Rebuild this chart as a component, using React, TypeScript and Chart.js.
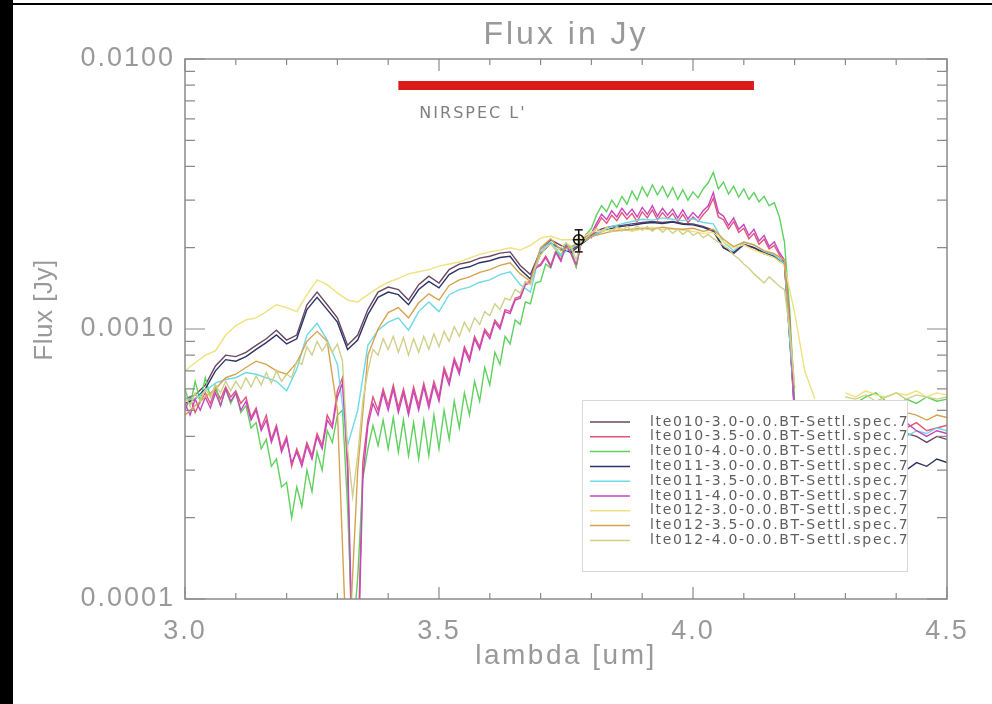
import React, { useEffect, useRef } from 'react';
import { Chart, registerables } from 'chart.js';
Chart.register(...registerables);

// wavelength grids (um)
const WL_COARSE = Array.from({ length: 61 }, (_, i) => Math.round((3 + i * 0.02) * 100) / 100);
const WL_FINE = Array.from({ length: 121 }, (_, i) => Math.round((3 + i * 0.01) * 100) / 100);
const WL_TAIL = Array.from({ length: 15 }, (_, i) => Math.round((4.22 + i * 0.02) * 100) / 100);

const X_TICKS = [3.0, 3.5, 4.0, 4.5];
const Y_TICKS = [0.0001, 0.001, 0.01];

// flux values in units of 1e-4 Jy
const LTE010_30 = [5.5, 5.7, 6.2, 7.3, 8.0, 7.9, 8.2, 8.7, 9.2, 9.9, 9.1, 9.5, 12.3, 13.7, 12.3, 11.0, 8.7, 9.5, 11.8, 13.7, 14.3, 14.0, 12.8, 14.6, 15.7, 14.8, 16.6, 17.4, 17.7, 18.3, 18.6, 19.1, 19.3, 17.2, 15.9, 19.6, 21.4, 20.4, 19.6, 20.8, 22.3, 23.5, 24.0, 24.2, 24.5, 24.8, 25.0, 24.8, 25.0, 24.6, 24.5, 24.0, 23.2, 20.0, 19.0, 20.5, 20.0, 19.0, 18.5, 17.5, 5.2];
const LTE010_30_TAIL = [null, null, null, null, 4.0, 3.9, 4.1, 3.8, 4.0, 3.9, 4.1, 4.0, 3.8, 4.0, 3.9];

const LTE010_35 = [
  5.0, 5.6, 4.9, 5.4, 5.8, 5.3, 6.0, 5.5, 6.1, 5.6,
  5.9, 5.3, 5.6, 4.7, 5.1, 4.3, 4.8, 3.9, 4.4, 3.6,
  4.0, 3.1, 3.6, 3.2, 3.8, 3.4, 4.1, 3.7, 4.8, 4.4,
  5.9, 6.6, 3.0, 0.5, 0.6, 3.2, 4.6, 5.6, 5.0, 6.0,
  5.2, 6.2, 5.1, 6.0, 5.0, 6.1, 5.2, 6.3, 5.3, 6.4,
  5.6, 7.2, 6.4, 7.8, 7.0, 8.6, 7.8, 9.4, 8.6, 10.0,
  9.4, 10.8, 10.2, 11.8, 11.6, 13.0, 13.2, 14.8, 15.0, 17.0,
  17.4, 18.6, 17.2, 19.5, 18.0, 20.6, 19.0, 17.0, 21.0, 22.5,
  21.8, 24.0, 25.8, 24.6, 26.4, 25.2, 27.0, 25.5, 26.8, 25.0,
  27.2, 25.8, 27.6, 25.4, 27.0, 25.6, 26.8, 25.0, 26.6, 24.8,
  26.0, 25.0, 26.5, 27.8, 30.5, 26.0, 25.4, 23.5, 25.0, 22.8,
  23.6, 21.6, 22.6, 20.6, 21.5, 19.8, 20.4, 18.8, 17.6, 10.0,
  4.6];
const LTE010_35_TAIL = [null, null, null, null, 4.4, 4.3, 4.5, 4.2, 4.4, 4.6, 4.3, 4.5, 4.2, 4.3, 4.4];

const LTE010_40 = [
  6.0, 5.2, 6.4, 5.4, 6.6, 5.6, 6.2, 5.2, 6.0, 5.3,
  5.8, 4.9, 5.2, 4.3, 4.5, 3.6, 3.9, 3.1, 3.3, 2.6,
  2.7, 2.0, 2.6, 2.2, 3.0, 2.5, 3.5, 3.0, 4.2, 3.8,
  4.8, 5.0, 2.2, 0.7, 1.2, 2.8, 3.6, 4.4, 3.7, 4.6,
  3.6, 4.7, 3.5, 4.6, 3.4, 4.5, 3.3, 4.6, 3.4, 4.8,
  3.6, 5.0, 3.9, 5.4, 4.3, 5.8, 4.8, 6.4, 5.4, 7.2,
  6.2, 8.2, 7.4, 9.4, 8.8, 10.8, 10.4, 12.6, 12.4, 14.8,
  15.0, 17.4, 16.8, 19.4, 18.6, 20.8, 19.8, 17.0, 21.0, 22.4,
  23.6, 26.4, 28.6, 27.2, 30.0, 28.2, 31.0, 29.0, 32.4, 30.0,
  33.6, 31.0, 34.2, 31.4, 33.8, 30.8, 33.4, 30.2, 32.8, 30.0,
  32.2, 30.6, 33.0, 34.8, 38.0, 33.0, 35.0, 31.6, 33.8, 30.8,
  33.0, 30.2, 32.0, 29.6, 31.0, 28.6, 29.4, 26.0, 21.0, 12.0,
  5.4];
const LTE010_40_TAIL = [null, null, null, null, 5.0, 5.3, 5.6, 5.8, 5.4, 5.2, 5.5, 5.3, 5.6, 5.4, 5.5];

const LTE011_30 = [5.3, 5.5, 6.0, 7.0, 7.7, 7.6, 7.9, 8.4, 8.9, 9.5, 8.8, 9.2, 11.8, 13.1, 11.8, 10.6, 8.4, 9.1, 11.3, 13.1, 13.7, 13.4, 12.3, 14.0, 15.0, 14.2, 15.9, 16.7, 17.0, 17.6, 17.9, 18.4, 18.6, 16.6, 15.3, 19.0, 20.8, 19.8, 19.2, 20.6, 22.0, 23.0, 23.6, 24.0, 24.2, 24.6, 24.8, 24.6, 24.9, 24.4, 24.3, 23.8, 23.0, 20.0, 19.2, 20.6, 20.0, 19.2, 18.6, 17.6, 5.0];
const LTE011_30_TAIL = [null, null, null, null, 3.3, 3.2, 3.4, 3.1, 3.2, 3.3, 3.0, 3.2, 3.1, 3.3, 3.2];

const LTE011_35 = [5.5, 5.5, 5.9, 6.3, 6.5, 6.6, 6.9, 6.8, 6.6, 6.4, 5.9, 7.1, 9.5, 10.5, 9.1, 7.4, 3.7, 5.0, 8.7, 9.9, 10.6, 11.0, 9.9, 11.6, 12.6, 11.6, 13.4, 14.0, 14.3, 14.9, 15.2, 15.9, 16.3, 14.6, 13.7, 19.6, 21.0, 18.8, 20.0, 20.8, 22.0, 23.0, 24.0, 24.5, 25.0, 25.5, 25.3, 25.8, 25.5, 25.2, 25.6, 24.8, 24.5, 21.0, 19.5, 21.0, 20.5, 19.4, 18.8, 17.5, 5.0];
const LTE011_35_TAIL = [null, null, null, null, 4.1, 4.2, 4.0, 4.3, 4.1, 4.2, 4.0, 4.2, 4.1, 4.3, 4.2];

const LTE011_40 = [
  5.3, 4.8, 5.5, 5.0, 5.6, 5.1, 5.8, 5.2, 6.0, 5.4,
  5.8, 5.0, 5.4, 4.6, 5.0, 4.2, 4.6, 3.8, 4.3, 3.5,
  3.9, 3.2, 3.5, 3.1, 3.7, 3.3, 4.0, 3.6, 4.6, 4.3,
  5.6, 6.3, 3.4, 0.6, 0.5, 2.8, 4.4, 5.3, 4.8, 5.8,
  5.0, 6.0, 4.9, 5.8, 4.8, 5.9, 5.0, 6.1, 5.1, 6.2,
  5.4, 7.0, 6.2, 7.6, 6.8, 8.4, 7.6, 9.2, 8.4, 9.8,
  9.2, 10.6, 10.0, 11.6, 11.4, 12.8, 13.0, 14.6, 14.8, 16.8,
  17.2, 18.4, 17.0, 19.2, 17.8, 20.4, 19.0, 17.4, 20.8, 22.0,
  22.6, 24.6, 26.6, 25.4, 27.4, 26.0, 28.0, 26.4, 27.8, 26.0,
  28.2, 26.6, 28.6, 26.2, 28.0, 26.4, 27.8, 25.8, 27.6, 25.6,
  27.0, 25.8, 27.4, 28.6, 32.0, 27.0, 26.2, 24.2, 25.8, 23.4,
  24.4, 22.2, 23.4, 21.2, 22.2, 20.2, 21.0, 19.2, 18.0, 11.0,
  4.8];
const LTE011_40_TAIL = [null, null, null, null, 4.2, 4.0, 4.3, 4.1, 4.4, 4.2, 4.5, 4.2, 4.0, 4.2, 4.1];

const LTE012_30 = [7.0, 7.5, 8.0, 8.3, 9.5, 10.3, 10.8, 11.0, 11.6, 12.3, 12.0, 11.6, 13.4, 15.2, 14.6, 13.6, 12.8, 12.6, 13.4, 14.2, 14.9, 15.4, 16.0, 16.3, 16.6, 17.1, 17.4, 17.7, 18.3, 18.9, 19.3, 19.6, 20.0, 19.6, 20.4, 21.7, 22.1, 21.4, 21.4, 21.7, 22.9, 23.0, 23.3, 23.5, 23.0, 23.5, 23.8, 23.3, 23.6, 23.2, 23.0, 22.6, 22.8, 21.0, 20.0, 20.5, 19.6, 19.0, 18.4, 17.2, 11.5];
const LTE012_30_TAIL = [7.0, 5.5, null, null, 5.8, 5.6, 5.9, 5.7, 5.6, 5.8, 5.7, 5.9, 5.6, 5.8, 5.7];

const LTE012_35 = [4.8, 5.2, 5.6, 6.0, 6.6, 6.8, 7.2, 7.6, 7.4, 7.0, 6.8, 7.5, 9.0, 9.8, 9.0, 5.0, 0.5, 3.0, 8.0, 10.0, 11.5, 12.0, 11.0, 12.5, 13.5, 12.8, 14.5, 15.2, 15.6, 16.2, 16.6, 17.2, 17.6, 16.0, 15.0, 20.0, 21.6, 19.5, 20.2, 21.0, 22.0, 22.5, 23.0, 23.2, 23.4, 23.6, 23.4, 23.8, 23.5, 23.4, 23.6, 23.0, 23.4, 21.5, 20.2, 21.0, 20.5, 19.5, 19.0, 18.0, 6.0];
const LTE012_35_TAIL = [null, null, null, null, 4.8, 4.7, 4.9, 4.6, 4.8, 4.7, 4.9, 4.8, 4.6, 4.8, 4.7];

const LTE012_40 = [
  5.6, 5.2, 5.8, 5.4, 6.0, 5.6, 6.2, 5.8, 6.4, 5.9,
  6.4, 6.0, 6.6, 6.1, 6.7, 6.2, 6.9, 6.3, 7.0, 6.4,
  6.8, 6.6, 7.6, 7.4, 8.6, 8.0, 9.0, 8.3, 8.9, 8.2,
  8.8, 7.6, 3.6, 2.4, 3.4, 5.4, 7.0, 8.4, 8.0, 9.2,
  8.4, 9.4, 8.2, 9.3, 8.0, 9.2, 8.2, 9.4, 8.4, 9.6,
  8.6, 9.8, 9.0, 10.2, 9.4, 10.6, 9.8, 11.0, 10.4, 11.6,
  11.2, 12.4, 11.8, 13.0, 12.8, 14.0, 13.6, 15.0, 14.6, 17.0,
  18.8, 20.0, 20.6, 19.6, 20.0, 20.8, 20.2, 18.0, 21.0, 21.8,
  22.6, 23.6, 22.8, 23.8, 22.9, 23.9, 23.0, 24.0, 23.1, 24.1,
  23.2, 24.0, 23.0, 23.8, 22.8, 23.6, 22.6, 23.4, 22.4, 23.2,
  22.2, 22.8, 21.8, 22.4, 21.6, 21.0, 20.4, 19.8, 18.8, 18.2,
  17.4, 16.8, 16.0, 15.4, 14.8, 15.6, 15.0, 14.4, 14.0, 10.0,
  6.2];
const LTE012_40_TAIL = [null, null, null, null, 5.6, 5.5, 5.7, 5.4, 5.6, 5.8, 5.5, 5.7, 5.6, 5.5, 5.6];

const SERIES_NAMES = [
  'lte010-3.0-0.0.BT-Settl.spec.7',
  'lte010-3.5-0.0.BT-Settl.spec.7',
  'lte010-4.0-0.0.BT-Settl.spec.7',
  'lte011-3.0-0.0.BT-Settl.spec.7',
  'lte011-3.5-0.0.BT-Settl.spec.7',
  'lte011-4.0-0.0.BT-Settl.spec.7',
  'lte012-3.0-0.0.BT-Settl.spec.7',
  'lte012-3.5-0.0.BT-Settl.spec.7',
  'lte012-4.0-0.0.BT-Settl.spec.7',
];
const SERIES_COLORS = ['#6a4760', '#e25577', '#5fd15f', '#2e3366', '#6fd9e8', '#c845c0', '#eee27e', '#d6a24e', '#cfd08a'];
const SERIES_MAIN = [LTE010_30, LTE010_35, LTE010_40, LTE011_30, LTE011_35, LTE011_40, LTE012_30, LTE012_35, LTE012_40];
const SERIES_GRID = [WL_COARSE, WL_FINE, WL_FINE, WL_COARSE, WL_COARSE, WL_FINE, WL_COARSE, WL_COARSE, WL_FINE];
const SERIES_TAIL = [LTE010_30_TAIL, LTE010_35_TAIL, LTE010_40_TAIL, LTE011_30_TAIL, LTE011_35_TAIL, LTE011_40_TAIL, LTE012_30_TAIL, LTE012_35_TAIL, LTE012_40_TAIL];

// NIRSPEC L' band and measured point
const NIRSPEC_RANGE = [3.42, 4.12];
const NIRSPEC_LEVEL = 0.00798;
const MEAS_WL = 3.775;
const MEAS_FLUX = 0.00214;
const MEAS_ERR = [0.00193, 0.00233];

const TEXT = '#999999';

function toPoints(wl: number[], vals: (number | null)[]) {
  const n = Math.min(wl.length, vals.length);
  const out: { x: number; y: number | null }[] = [];
  for (let i = 0; i < n; i++) out.push({ x: wl[i], y: vals[i] == null ? null : (vals[i] as number) * 1e-4 });
  return out;
}

const decor = {
  id: 'decor',
  beforeDraw(chart: any) {
    const ctx = chart.ctx;
    ctx.save();
    ctx.fillStyle = '#ffffff';
    ctx.fillRect(0, 0, chart.width, chart.height);
    ctx.fillStyle = '#000000';
    ctx.fillRect(0, 0, 13, chart.height);
    ctx.fillRect(13, 3, chart.width - 13, 2);
    ctx.restore();
    ctx.letterSpacing = '2px';
  },
  afterDatasetsDraw(chart: any) {
    const ctx = chart.ctx;
    const a = chart.chartArea;
    const xs = chart.scales.x;
    const ys = chart.scales.y;
    ctx.save();
    ctx.letterSpacing = '0px';

    // legend
    const series = chart.data.datasets.filter((d: any) => d.isSeries);
    const bx = 582, by = 400, bw = 325, bh = 171;
    ctx.fillStyle = '#ffffff';
    ctx.fillRect(bx, by, bw, bh);
    ctx.strokeStyle = '#d8d8d8';
    ctx.lineWidth = 1;
    ctx.strokeRect(bx + 0.5, by + 0.5, bw, bh);
    ctx.font = '14px "DejaVu Sans"';
    ctx.textBaseline = 'middle';
    ctx.textAlign = 'left';
    ctx.letterSpacing = '1.7px';
    series.forEach((d: any, i: number) => {
      const y = 422 + i * 14.8;
      ctx.strokeStyle = d.borderColor;
      ctx.lineWidth = 1.5;
      ctx.beginPath();
      ctx.moveTo(590, y);
      ctx.lineTo(630, y);
      ctx.stroke();
      ctx.fillStyle = '#5e5e5e';
      ctx.fillText(d.label, 650, y);
    });

    // frame
    ctx.strokeStyle = '#8a8a8a';
    ctx.lineWidth = 1.5;
    ctx.strokeRect(a.left, a.top, a.right - a.left, a.bottom - a.top);

    // x ticks (inside, top and bottom)
    ctx.lineWidth = 1.2;
    for (let k = 30; k <= 45; k++) {
      const x = xs.getPixelForValue(k / 10);
      const len = k % 5 === 0 ? 12 : 6;
      ctx.beginPath();
      ctx.moveTo(x, a.bottom);
      ctx.lineTo(x, a.bottom - len);
      ctx.moveTo(x, a.top);
      ctx.lineTo(x, a.top + len);
      ctx.stroke();
    }
    // y ticks (log, inside, left and right)
    [0.0001, 0.001].forEach((dec) => {
      for (let m = 1; m <= 9; m++) {
        const y = ys.getPixelForValue(m * dec);
        const len = m === 1 ? 20 : 10;
        ctx.beginPath();
        ctx.moveTo(a.left, y);
        ctx.lineTo(a.left + len, y);
        ctx.moveTo(a.right, y);
        ctx.lineTo(a.right - len, y);
        ctx.stroke();
      }
    });
    const yTop = ys.getPixelForValue(0.01);
    ctx.beginPath();
    ctx.moveTo(a.left, yTop);
    ctx.lineTo(a.left + 20, yTop);
    ctx.moveTo(a.right, yTop);
    ctx.lineTo(a.right - 20, yTop);
    ctx.stroke();

    // NIRSPEC label
    ctx.fillStyle = '#808080';
    ctx.font = '16px "DejaVu Sans"';
    ctx.letterSpacing = '2px';
    ctx.textAlign = 'left';
    ctx.textBaseline = 'middle';
    ctx.fillText("NIRSPEC L'", xs.getPixelForValue(NIRSPEC_RANGE[0]) + 21, 114);

    // title
    ctx.fillStyle = TEXT;
    ctx.font = '32px "Liberation Sans"';
    ctx.letterSpacing = '3px';
    ctx.textAlign = 'center';
    ctx.fillText('Flux in Jy', (a.left + a.right) / 2, 35);

    // x title
    ctx.font = '28px "Liberation Sans"';
    ctx.letterSpacing = '2.5px';
    ctx.fillText('lambda [um]', (a.left + a.right) / 2, 656);

    // y title
    ctx.font = '26px "Liberation Sans"';
    ctx.letterSpacing = '0.5px';
    ctx.translate(45, 310);
    ctx.rotate(-Math.PI / 2);
    ctx.fillText('Flux [Jy]', 0, 0);
    ctx.restore();
  },
  afterDraw(chart: any) {
    chart.ctx.letterSpacing = '0px';
  },
};

export default function App() {
  const ref = useRef<HTMLCanvasElement | null>(null);
  useEffect(() => {
    if (!ref.current) return;
    const seriesSets = SERIES_NAMES.map((name, i) => ({
      label: name,
      isSeries: true,
      data: [...toPoints(SERIES_GRID[i], SERIES_MAIN[i]), ...toPoints(WL_TAIL, SERIES_TAIL[i])],
      borderColor: SERIES_COLORS[i],
      borderWidth: 1.4,
      pointRadius: 0,
      tension: 0,
      spanGaps: false,
      order: 20 - i,
    }));
    const chart = new Chart(ref.current, {
      type: 'line',
      data: {
        datasets: [
          ...seriesSets,
          {
            label: 'NIRSPEC',
            data: [{ x: NIRSPEC_RANGE[0], y: NIRSPEC_LEVEL }, { x: NIRSPEC_RANGE[1], y: NIRSPEC_LEVEL }],
            borderColor: '#dc1a1a',
            borderWidth: 9,
            borderCapStyle: 'butt',
            pointRadius: 0,
            order: 3,
          },
          {
            label: 'err',
            data: [{ x: MEAS_WL, y: MEAS_ERR[0] }, { x: MEAS_WL, y: MEAS_ERR[1] }],
            borderColor: '#111111',
            borderWidth: 1.5,
            pointStyle: 'line',
            pointRadius: 4,
            pointBorderWidth: 1.5,
            pointBorderColor: '#111111',
            order: 2,
          },
          {
            label: 'meas',
            data: [{ x: MEAS_WL, y: MEAS_FLUX }],
            showLine: false,
            pointStyle: 'circle',
            pointRadius: 5,
            pointBorderWidth: 1.5,
            pointBorderColor: '#111111',
            pointBackgroundColor: 'rgba(0,0,0,0)',
            order: 1,
          },
          {
            label: 'meas2',
            data: [{ x: MEAS_WL, y: MEAS_FLUX }],
            showLine: false,
            pointStyle: 'cross',
            pointRadius: 6,
            pointBorderWidth: 1.5,
            pointBorderColor: '#111111',
            order: 0,
          },
        ] as any,
      },
      options: {
        animation: false,
        responsive: false,
        devicePixelRatio: 1,
        events: [],
        layout: { padding: { top: 59, right: 45, left: 0, bottom: 0 } },
        plugins: { legend: { display: false }, tooltip: { enabled: false }, title: { display: false } },
        scales: {
          x: {
            type: 'linear',
            min: 3.0,
            max: 4.5,
            afterBuildTicks: (s: any) => { s.ticks = X_TICKS.map((v) => ({ value: v })); },
            afterFit: (s: any) => { s.height = 105; },
            grid: { display: false, drawTicks: false, tickLength: 0 },
            border: { display: false },
            ticks: {
              font: { family: 'Liberation Sans', size: 27 },
              color: TEXT,
              padding: 16,
              maxRotation: 0,
              autoSkip: false,
              callback: (v: any) => Number(v).toFixed(1),
            },
          },
          y: {
            type: 'logarithmic',
            min: 0.0001,
            max: 0.01,
            afterBuildTicks: (s: any) => { s.ticks = Y_TICKS.map((v) => ({ value: v })); },
            afterFit: (s: any) => { s.width = 185; },
            grid: { display: false, drawTicks: false, tickLength: 0 },
            border: { display: false },
            ticks: {
              font: { family: 'Liberation Sans', size: 27 },
              color: TEXT,
              padding: 10,
              autoSkip: false,
              callback: (v: any) => Number(v).toFixed(4),
            },
          },
        },
      } as any,
      plugins: [decor],
    });
    return () => chart.destroy();
  }, []);
  return (
    <div style={{ position: 'fixed', left: 0, top: 0, width: 992, height: 704, background: '#fff' }}>
      <canvas ref={ref} width={992} height={704} style={{ width: 992, height: 704, display: 'block' }} />
    </div>
  );
}
